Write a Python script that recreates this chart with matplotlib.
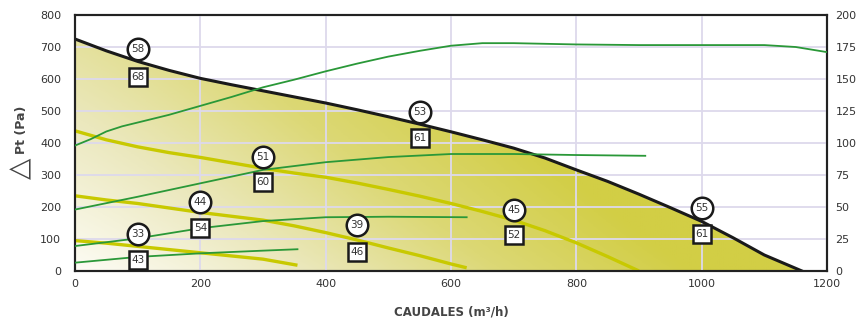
import matplotlib
matplotlib.use("Agg")
import matplotlib.pyplot as plt
import numpy as np
from matplotlib.colors import LinearSegmentedColormap
from matplotlib.patches import Polygon

# fan curve at max speed (Pa vs m3/h)
black_x = [0, 50, 100, 150, 200, 250, 300, 350, 400, 450, 500, 550, 600, 650, 700,
           750, 800, 850, 900, 950, 1000, 1050, 1100, 1160]
black_y = [725, 688, 655, 627, 602, 582, 563, 544, 525, 504, 482, 459, 435, 410, 384,
           353, 316, 280, 240, 198, 155, 104, 50, 0]

# lower speed pressure curves
y1_x = [0, 50, 100, 150, 200, 250, 300, 350, 400, 450, 500, 550, 600, 650, 700, 750, 800, 850, 900]
y1_y = [438, 410, 388, 370, 355, 338, 321, 306, 293, 275, 255, 234, 211, 186, 159, 126, 88, 45, 0]
y2_x = [0, 50, 100, 150, 200, 250, 300, 350, 400, 450, 500, 550, 600, 625]
y2_y = [235, 222, 211, 197, 183, 171, 159, 141, 120, 97, 72, 48, 22, 10]
y3_x = [0, 50, 100, 150, 200, 250, 300, 355]
y3_y = [95, 87, 77, 67, 57, 47, 37, 18]

# power curves (W, right axis)
g1_x = [0, 25, 50, 75, 100, 150, 200, 250, 300, 350, 400, 450, 500, 550, 600, 650, 700,
        800, 900, 1000, 1100, 1150, 1200]
g1_y = [98, 103, 109, 113, 116, 122, 129, 136, 143.5, 149.5, 156, 162, 167.5, 172, 176,
        178, 178, 177, 176.5, 176.5, 176.5, 175, 171]
g2_x = [0, 100, 200, 300, 400, 500, 600, 700, 800, 910]
g2_y = [48, 58, 68.5, 79, 85, 89, 91.4, 91.4, 90.6, 90]
g3_x = [0, 100, 200, 300, 400, 500, 625]
g3_y = [19.5, 25.5, 33.4, 39, 42, 42.4, 42]
g4_x = [0, 100, 200, 300, 355]
g4_y = [6.5, 11, 13.8, 15.9, 17]

# noise labels
circ_x = [100, 300, 200, 100, 450, 550, 700, 1000]
circ_y = [693, 357, 216, 116, 144, 496, 191, 198]
circ_v = [58, 51, 44, 33, 39, 53, 45, 55]
sq_x = [100, 300, 200, 100, 450, 550, 700, 1000]
sq_y = [607, 279, 133, 34, 58, 417, 112, 115]
sq_v = [68, 60, 54, 43, 46, 61, 52, 61]

fig = plt.figure(figsize=(8.57, 3.22), dpi=100)
ax = fig.add_axes([75 / 857, 51 / 322, 752 / 857, 256 / 322])
ax.set_xlim(0, 1200)
ax.set_ylim(0, 800)

# gradient fill under the max curve
xx, yy = np.meshgrid(np.linspace(0, 1200, 300), np.linspace(0, 800, 200))
t = np.clip(0.9 * (xx / 900) ** 1.1 + 0.5 * (yy / 750) ** 0.9, 0, 1)
cmap = LinearSegmentedColormap.from_list("fill", ["#fdfcf5", "#ebe8bd", "#dcd875", "#d2ce45"])
im = ax.imshow(t, extent=[0, 1200, 0, 800], origin="lower", cmap=cmap, vmin=0, vmax=1,
               aspect="auto", zorder=1, interpolation="bilinear")
poly = Polygon(list(zip(black_x, black_y)) + [(0, 0)], closed=True, transform=ax.transData)
im.set_clip_path(poly)

ax.set_xticks(range(0, 1201, 200))
ax.set_yticks(range(0, 801, 100))
ax.grid(True, color="#ddd9ec", linewidth=1.3, zorder=2)
ax.set_axisbelow(False)
for gl in ax.get_xgridlines() + ax.get_ygridlines():
    gl.set_zorder(2)

ax.plot(y1_x, y1_y, color="#c8c900", lw=2.4, zorder=3, solid_capstyle="butt")
ax.plot(y2_x, y2_y, color="#c8c900", lw=2.4, zorder=3, solid_capstyle="butt")
ax.plot(y3_x, y3_y, color="#c8c900", lw=2.4, zorder=3, solid_capstyle="butt")
ax.plot(black_x, black_y, color="#1a1a1a", lw=2.2, zorder=4)

ax2 = ax.twinx()
ax2.set_ylim(0, 200)
ax2.set_yticks(range(0, 201, 25))
for gx, gy in [(g1_x, g1_y), (g2_x, g2_y), (g3_x, g3_y), (g4_x, g4_y)]:
    ax2.plot(gx, gy, color="#2a9838", lw=1.3, zorder=3)

# labels drawn on top axes in pressure coordinates
ax2.plot(circ_x, circ_y, "o", ms=15.5, mfc="white", mec="#1a1a1a", mew=1.8,
         transform=ax.transData, zorder=6, clip_on=False)
ax2.plot(sq_x, sq_y, "s", ms=12.5, mfc="white", mec="#1a1a1a", mew=1.8,
         transform=ax.transData, zorder=6, clip_on=False)
for x, y, v in zip(circ_x, circ_y, circ_v):
    ax2.text(x, y, str(v), transform=ax.transData, ha="center", va="center",
             fontsize=7.5, color="#333333", zorder=7)
for x, y, v in zip(sq_x, sq_y, sq_v):
    ax2.text(x, y, str(v), transform=ax.transData, ha="center", va="center",
             fontsize=7.5, color="#333333", zorder=7)

for a in (ax, ax2):
    a.tick_params(length=0, labelsize=8, colors="#333333", pad=6)
    for s in a.spines.values():
        s.set_color("#222222")
        s.set_linewidth(1.5)
ax.tick_params(axis="y", pad=10)

fig.text(20 / 857, 1 - 168 / 322, "\u25B3", rotation=90, fontsize=20, color="#444444",
         ha="center", va="center")
fig.text(21 / 857, 1 - 130 / 322, "Pt (Pa)", rotation=90, fontsize=9, fontweight="bold",
         color="#444444", ha="center", va="center")
fig.text(451 / 857, 1 - 312 / 322, "CAUDALES (m\u00b3/h)", fontsize=8.5, fontweight="bold",
         color="#444444", ha="center", va="center")

fig.savefig("out.png", dpi=100)
